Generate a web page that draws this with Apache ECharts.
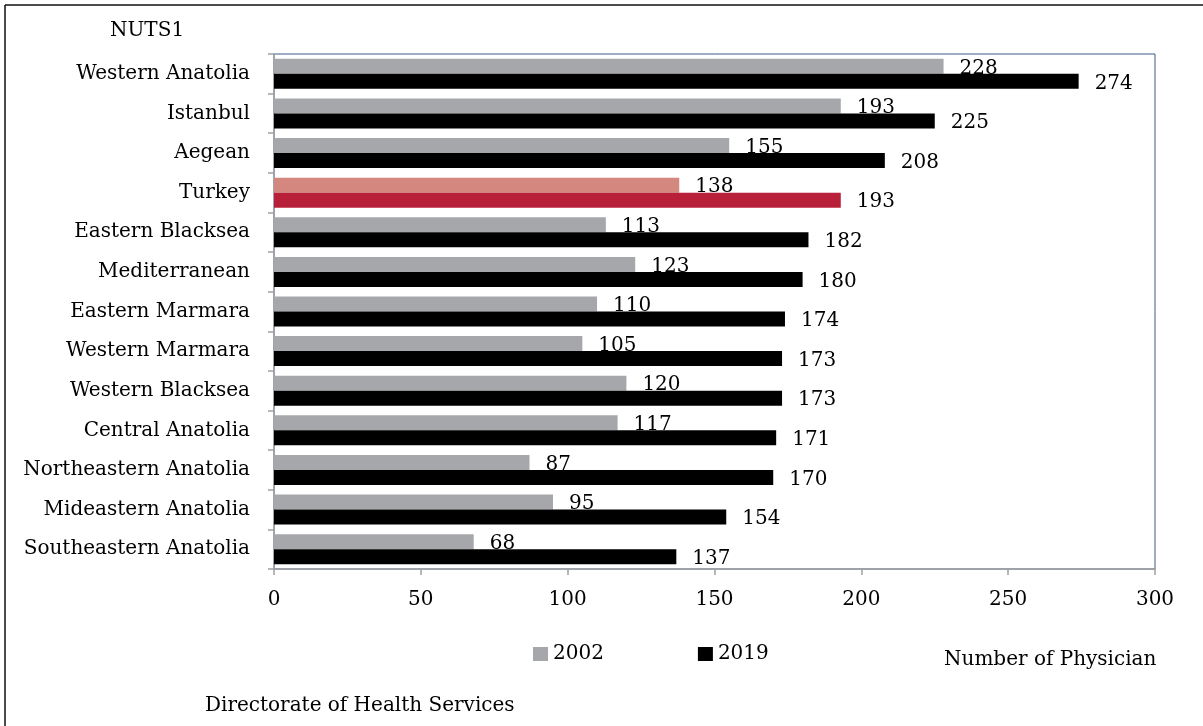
<!DOCTYPE html>
<html>
<head>
<meta charset="utf-8">
<script src="https://cdn.jsdelivr.net/npm/echarts@6/dist/echarts.min.js"></script>
<style>html,body{margin:0;padding:0;background:#fff;}#c{width:1203px;height:726px;}</style>
</head>
<body>
<div id="c"></div>
<script>
const categories = ["Western Anatolia","Istanbul","Aegean","Turkey","Eastern Blacksea","Mediterranean","Eastern Marmara","Western Marmara","Western Blacksea","Central Anatolia","Northeastern Anatolia","Mideastern Anatolia","Southeastern Anatolia"];
const values2002 = [228,193,155,138,113,123,110,105,120,117,87,95,68];
const values2019 = [274,225,208,193,182,180,174,173,173,171,170,154,137];
const xTicks = [0,50,100,150,200,250,300];
const highlight = "Turkey";

const FONT = "DejaVu Serif";
const FS = 20;
const chart = echarts.init(document.getElementById('c'), null, {renderer: 'canvas'});
function mk(vals, hiColor) {
  return vals.map((v, i) => categories[i] === highlight ? {value: v, itemStyle: {color: hiColor}} : v);
}
const lbl = {show: true, position: 'right', distance: 16, offset: [0, 2], color: '#000', fontFamily: FONT, fontSize: FS};
chart.setOption({
  animation: false,
  backgroundColor: '#fff',
  grid: {left: 274, right: 48, top: 54, bottom: 157, show: true, borderColor: '#3b5b8c', borderWidth: 1, backgroundColor: 'transparent'},
  legend: {
    data: ['2002', '2019'], left: 533, top: 644, padding: 0, itemWidth: 15, itemHeight: 14, itemGap: 94,
    icon: 'rect', textStyle: {fontFamily: FONT, fontSize: FS, color: '#000'}
  },
  xAxis: {
    type: 'value', min: xTicks[0], max: xTicks[xTicks.length - 1], interval: 50,
    axisLine: {show: true, lineStyle: {color: '#a0a0a0', width: 1.5}},
    axisTick: {show: true, length: 6, lineStyle: {color: '#a0a0a0', width: 1.5}},
    splitLine: {show: false},
    axisLabel: {margin: 21, color: '#000', fontFamily: FONT, fontSize: FS}
  },
  yAxis: {
    type: 'category', data: categories, inverse: true,
    axisLine: {show: true, lineStyle: {color: '#a0a0a0', width: 1.5}},
    axisTick: {show: true, length: 6, lineStyle: {color: '#a0a0a0', width: 1.5}},
    axisLabel: {margin: 24, color: '#000', fontFamily: FONT, fontSize: FS}
  },
  series: [
    {name: '2002', type: 'bar', data: mk(values2002, '#d4877e'), itemStyle: {color: '#a6a7ab'}, barWidth: 15, barGap: '0%', label: lbl, z: 2},
    {name: '2019', type: 'bar', data: mk(values2019, '#b81f38'), itemStyle: {color: '#000000'}, barWidth: 15, barGap: '0%', label: lbl, z: 3}
  ],
  graphic: [
    {type: 'line', shape: {x1: 5, y1: 5, x2: 1203, y2: 5}, style: {stroke: '#111', lineWidth: 1.5}},
    {type: 'line', shape: {x1: 5, y1: 5, x2: 5, y2: 726}, style: {stroke: '#111', lineWidth: 1.5}},
    {type: 'text', left: 110, top: 21, style: {text: 'NUTS1', fontFamily: FONT, fontSize: FS, fill: '#000'}},
    {type: 'text', left: 944, top: 650, style: {text: 'Number of Physician', fontFamily: FONT, fontSize: FS, fill: '#000'}},
    {type: 'text', left: 205, top: 696, style: {text: 'Directorate of Health Services', fontFamily: FONT, fontSize: FS, fill: '#000'}}
  ]
});
</script>
</body>
</html>
